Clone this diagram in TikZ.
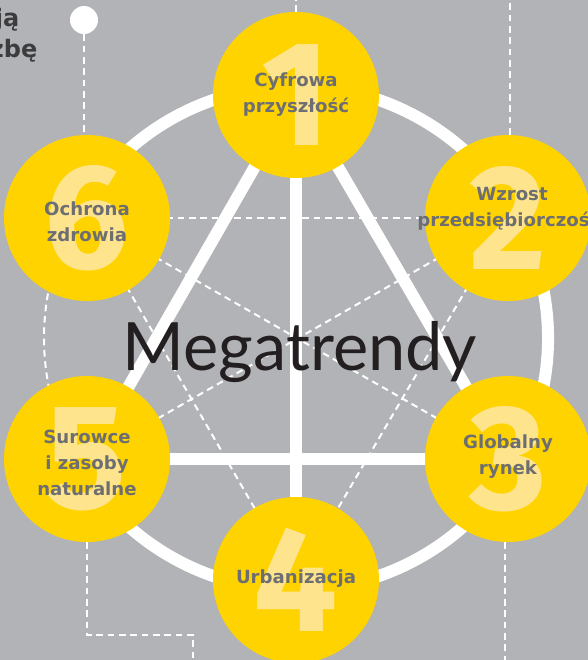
\documentclass[tikz,border=0pt]{standalone}
\usepackage{fontspec}
\setmainfont{Fira Sans}
\newfontfamily\megafont{Lato}
\newfontfamily\labelfont{DejaVu Sans}
\usetikzlibrary{backgrounds}
\definecolor{eygray}{HTML}{B1B3B6}
\definecolor{eyyellow}{HTML}{FFD300}
\definecolor{eylight}{HTML}{FFE48E}
\definecolor{eytext}{HTML}{6D6E71}
\definecolor{eydark}{HTML}{3C3C3E}
\definecolor{eyblack}{HTML}{231F20}
\begin{document}
\begin{tikzpicture}[x=0.75pt,y=-0.75pt]
	\tikzstyle{yc} = [circle, fill=eyyellow, minimum size=124.5pt, inner sep=0pt, text=eylight, font=\bfseries\fontsize{112}{112}\selectfont]
	\tikzstyle{tx} = [text=eytext, align=center, font=\labelfont\bfseries\fontsize{13.6}{19.5}\selectfont]
	\tikzstyle{fr} = [text=eydark, anchor=base east, font=\labelfont\bfseries\fontsize{18}{18}\selectfont]
	\tikzstyle{wl} = [white, line width=9pt]
	\tikzstyle{dl} = [white, line width=1.5pt, dash pattern=on 5pt off 3.5pt]
	\clip (0,0) rectangle (588,660);
	% circles
	\node[yc] (n1) at (296,95) {1};
	\node[yc] (n2) at (508,218) {2};
	\node[yc] (n3) at (508,459) {3};
	\node[yc] (n4) at (296,580) {4};
	\node[yc] (n5) at (87,459) {5};
	\node[yc] (n6) at (87,218) {6};
	\node[circle, fill=white, minimum size=21pt, inner sep=0pt] (dot) at (84,20) {};
	\coordinate (o) at (296,338);
	\coordinate (top1) at (296,0);
	\coordinate (top2) at (510,0);
	\coordinate (bot3) at (505,660);
	\coordinate (bend1) at (87,635);
	\coordinate (bend2) at (193,635);
	\coordinate (bot5) at (193,660);
	% labels
	\node[tx] (l1) at (296,95) {Cyfrowa\\przyszłość};
	\node[tx] (l2) at (512,209) {Wzrost\\przedsiębiorczości};
	\node[tx] (l3) at (508,457) {Globalny\\rynek};
	\node[tx] (l4) at (296,579) {Urbanizacja};
	\node[tx] (l5) at (87,463) {Surowce\\i zasoby\\naturalne};
	\node[tx] (l6) at (87,222) {Ochrona\\zdrowia};
	\node[text=eyblack, anchor=base, font=\megafont\fontsize{50}{50}\selectfont] (title) at (300,370) {Megatrendy};
	\node[fr] (frag1) at (24,27) {ją};
	\node[fr] (frag2) at (42,58) {żbę};
	\begin{pgfonlayer}{background}
		\fill[eygray] (0,0) rectangle (588,660);
		% dashed links
		\draw[dl] (n6.center) -- (n2.center);
		\draw[dl] (n6.center) -- (n4.center);
		\draw[dl] (n2.center) -- (n4.center);
		\draw[dl] (n6.center) -- (n3.center);
		\draw[dl] (n2.center) -- (n5.center);
		\draw[dl] (o) ++(150:252) arc[start angle=150, end angle=210, radius=252];
		\draw[dl] (dot.south) -- (dot.south |- n6.north);
		\draw[dl] (n1.north) -- (top1);
		\draw[dl] (n2.north -| top2) -- (top2);
		\draw[dl] (n3.south -| bot3) -- (bot3);
		\draw[dl] (n5.south) -- (bend1) -- (bend2) -- (bot5);
		% white links
		\draw[wl] (o) ++(-150:252) arc[start angle=-150, end angle=150, radius=252];
		\draw[wl] (n1.center) -- (n5.center);
		\draw[wl] (n1.center) -- (n3.center);
		\draw[wl] (n1.center) -- (n4.center);
		\draw[wl] (n5.center) -- (n3.center);
	\end{pgfonlayer}
\end{tikzpicture}
\end{document}
